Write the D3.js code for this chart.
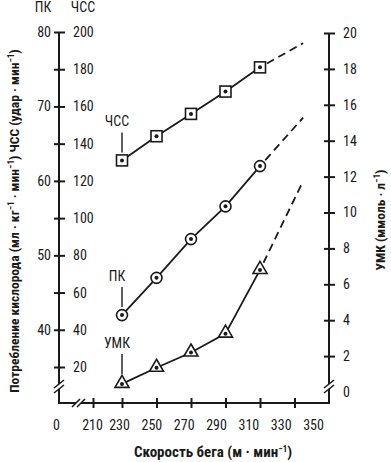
<!DOCTYPE html>
<html><head><meta charset="utf-8">
<script src="https://cdn.jsdelivr.net/npm/d3@7/dist/d3.min.js"></script>
<style>
html,body{margin:0;padding:0;background:#fff;}
svg{display:block;}
text{font-family:"Liberation Sans Narrow","Roboto Condensed","Liberation Sans",sans-serif;fill:#1a1a1a;}
.t{font-size:14px;}
.b{font-weight:bold;font-size:13.5px;}
.bb{font-weight:bold;font-size:15px;}
</style></head>
<body>
<svg id="c" width="391" height="462"></svg>
<script>
// ---- data ----
const speeds = [230, 250, 270, 290, 310];
const hrValues = [131, 144, 156, 168, 181];
const pkValues = [42, 47, 52.2, 56.6, 62];
const umkValues = [0.45, 1.35, 2.2, 3.25, 6.8];
const extSpeeds = [310, 335];
const hrExt = [181, 194];
const pkExt = [62, 68.5];
const umkExt = [6.8, 11.75];
const xTicks = [210, 230, 250, 270, 290, 310, 330];
const xLabels = [0, 210, 230, 250, 270, 290, 310, 330, 350];
const hrTicks = [20, 40, 60, 80, 100, 120, 140, 160, 180, 200];
const pkTicks = [40, 50, 60, 70, 80];
const umkTicks = [0, 2, 4, 6, 8, 10, 12, 14, 16, 18, 20];

const svg = d3.select("#c");
const ink = "#1a1a1a";

// ---- scales ----
const x = d3.scaleLinear().domain([0, 210, 230, 350]).range([59, 93, 122, 329]);
const xLab = d3.scaleLinear().domain([0, 210, 230, 350]).range([56, 92, 119, 313]);
const hr = d3.scaleLinear().domain([20, 200]).range([367, 32]);
const pk = d3.scaleLinear().domain([40, 80]).range([330, 32]);
const umk = d3.scaleLinear().domain([0, 20]).range([392, 33]);

const X0 = 59, X1 = 329, Y0 = 403;

// ---- axis lines with breaks ----
const g = svg.append("g").attr("stroke", ink).attr("stroke-width", 2).attr("fill", "none");
g.append("path").attr("d", `M${X0},${hr(200)}V384 M${X0},389V${Y0}H76 M81,${Y0}H${X1}V389 M${X1},384V${umk(20)}`);
function brk(cx, cy, horiz) {
  const s = svg.append("g").attr("stroke", ink).attr("stroke-width", 1.6);
  [-2.5, 2.5].forEach(o => {
    if (horiz) s.append("line").attr("x1", cx + o - 4).attr("y1", cy + 4).attr("x2", cx + o + 4).attr("y2", cy - 4);
    else s.append("line").attr("x1", cx - 5).attr("y1", cy + o + 4).attr("x2", cx + 5).attr("y2", cy + o - 4);
  });
}
brk(X0, 386.5, false);
brk(X1, 386.5, false);
brk(78.5, Y0, true);

// ---- left axis: HR ticks (crosses) + labels ----
const hrAx = svg.append("g").attr("transform", `translate(${X0},0)`)
  .call(d3.axisRight(hr).tickValues(hrTicks).tickSize(6).tickPadding(8));
hrAx.select(".domain").remove();
hrAx.selectAll(".tick line").attr("x1", -5).attr("x2", 6).attr("stroke", ink).attr("stroke-width", 2);
hrAx.selectAll(".tick text").attr("class", "t").attr("x", 14).attr("font-family", null).attr("font-size", null);

const pkAx = svg.append("g").attr("transform", `translate(${X0},0)`)
  .call(d3.axisLeft(pk).tickValues(pkTicks).tickSize(0).tickPadding(8));
pkAx.select(".domain").remove();
pkAx.selectAll(".tick text").attr("class", "t").attr("x", -8).attr("font-family", null).attr("font-size", null);

// ---- right axis: UMK ----
const umAx = svg.append("g").attr("transform", `translate(${X1},0)`)
  .call(d3.axisRight(umk).tickValues(umkTicks).tickSize(6).tickPadding(8));
umAx.select(".domain").remove();
umAx.selectAll(".tick line").attr("x1", -5).attr("x2", 6).attr("stroke", ink).attr("stroke-width", 2)
  .filter(d => d === 0).remove();
umAx.selectAll(".tick text").attr("class", "t").attr("x", 14).attr("font-family", null).attr("font-size", null);

// ---- bottom axis ----
const xAx = svg.append("g").attr("transform", `translate(0,${Y0})`)
  .call(d3.axisBottom(x).tickValues(xTicks).tickSize(5).tickFormat(""));
xAx.select(".domain").remove();
xAx.selectAll(".tick line").attr("y1", -5).attr("y2", 5).attr("stroke", ink).attr("stroke-width", 2);
const xlAx = svg.append("g").attr("transform", `translate(0,${Y0})`)
  .call(d3.axisBottom(xLab).tickValues(xLabels).tickSize(0).tickPadding(17));
xlAx.select(".domain").remove();
xlAx.selectAll(".tick text").attr("class", "t").attr("font-family", null).attr("font-size", null);

// ---- headers ----
svg.append("text").attr("class", "t").attr("x", 43).attr("y", 12).attr("text-anchor", "middle").text("ПК");
svg.append("text").attr("class", "t").attr("x", 83).attr("y", 12).attr("text-anchor", "middle").text("ЧСС");

// ---- axis titles ----
function addSup(t, parts) {
  parts.forEach((p, i) => {
    if (i === 0) t.append("tspan").text(p);
    else { t.append("tspan").attr("font-size", 9).attr("dy", -5).text("−1"); t.append("tspan").attr("dy", 5).text(p); }
  });
}
const lt = svg.append("text").attr("class", "b").attr("transform", "translate(19,221) rotate(-90)").attr("text-anchor", "middle");
addSup(lt, ["Потребление кислорода (мл · кг", " · мин", ") ЧСС (удар · мин", ")"]);

const rt = svg.append("text").attr("class", "b").attr("transform", "translate(385,220) rotate(-90)").attr("text-anchor", "middle");
addSup(rt, ["УМК (ммоль · л", ")"]);

const bt = svg.append("text").attr("class", "bb").attr("x", 213).attr("y", 457).attr("text-anchor", "middle");
addSup(bt, ["Скорость бега (м · мин", ")"]);

// ---- series ----
const series = [
  {vals: hrValues, ext: hrExt, y: hr, shape: "square", name: "ЧСС"},
  {vals: pkValues, ext: pkExt, y: pk, shape: "circle", name: "ПК"},
  {vals: umkValues, ext: umkExt, y: umk, shape: "tri", name: "УМК"}
];
const line = d3.line();
series.forEach(s => {
  const pts = speeds.map((sp, i) => [x(sp), s.y(s.vals[i])]);
  svg.append("path").attr("d", line(pts)).attr("fill", "none").attr("stroke", ink).attr("stroke-width", 1.8);
  const ep = extSpeeds.map((sp, i) => [x(sp), s.y(s.ext[i])]);
  svg.append("path").attr("d", line(ep)).attr("fill", "none").attr("stroke", ink).attr("stroke-width", 1.8)
    .attr("stroke-dasharray", "8,5").attr("stroke-dashoffset", -8);
  const m = svg.append("g").selectAll("g").data(pts).join("g").attr("transform", d => `translate(${d[0]},${d[1]})`);
  if (s.shape === "square") m.append("rect").attr("x", -5.5).attr("y", -5.5).attr("width", 11).attr("height", 11);
  else if (s.shape === "circle") m.append("circle").attr("r", 5.5);
  else m.append("path").attr("d", "M0,-8.5L7,3.5L-7,3.5Z");
  m.selectAll("rect,circle,path").attr("fill", "#fff").attr("stroke", ink).attr("stroke-width", 1.6);
  m.append("circle").attr("r", 2).attr("fill", ink);
  const p0 = pts[0];
  const a = svg.append("g");
  const off = s.shape === "tri" ? 10 : 8;
  a.append("line").attr("x1", p0[0]).attr("x2", p0[0]).attr("y1", p0[1] - off).attr("y2", p0[1] - off - 20)
    .attr("stroke", ink).attr("stroke-width", 1.4);
  a.append("text").attr("class", "t").attr("x", p0[0] - 5).attr("y", p0[1] - off - 26).attr("text-anchor", "middle").text(s.name);
});
</script>
</body></html>
